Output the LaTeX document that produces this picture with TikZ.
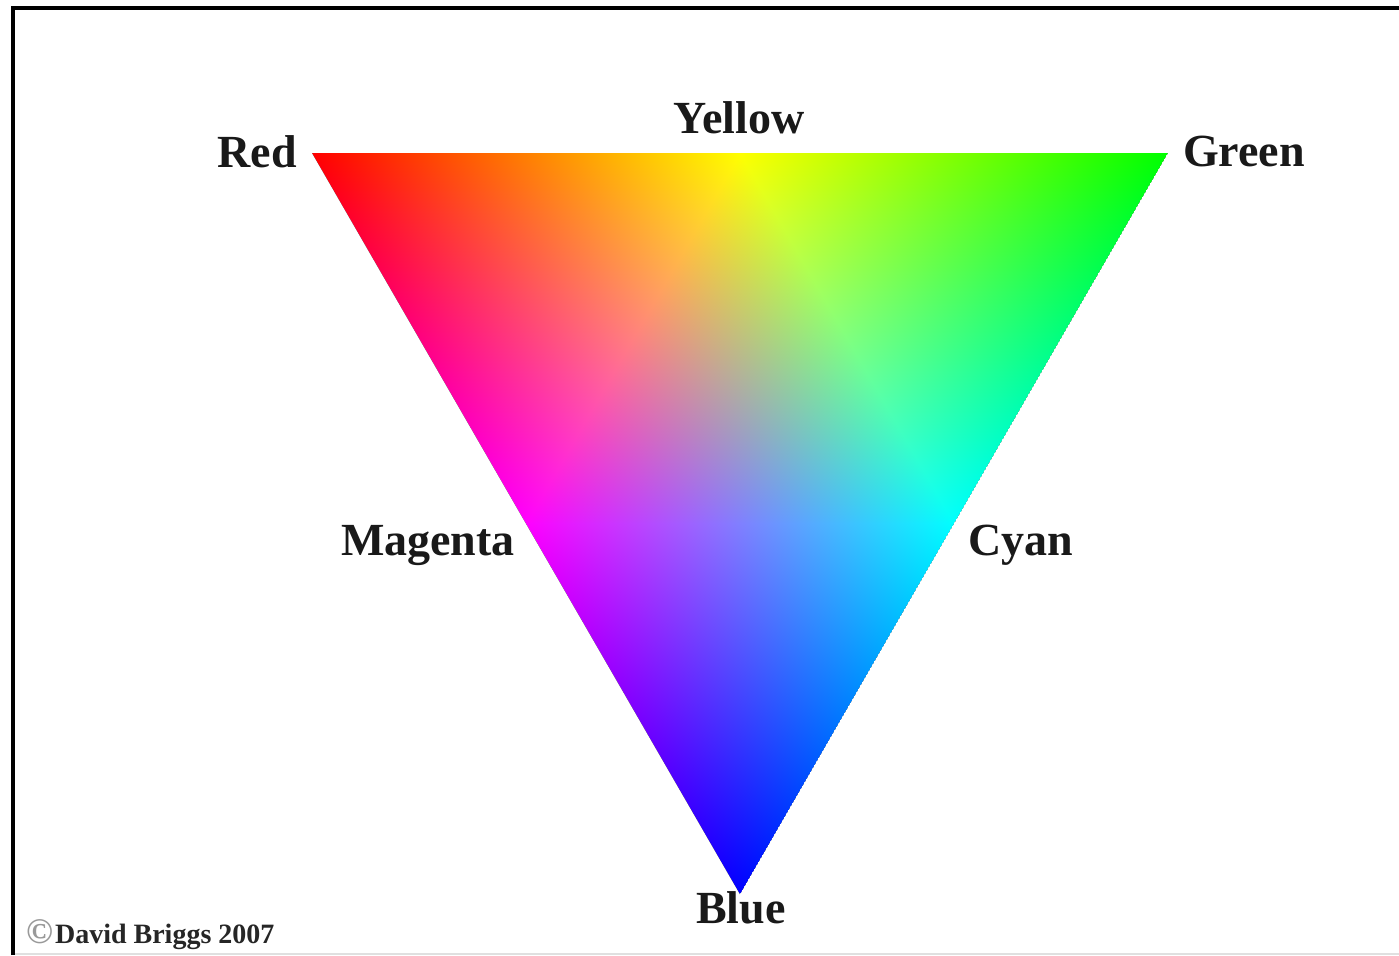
\documentclass[tikz,border=0pt]{standalone}
\usepackage{fontspec}
\setmainfont{Liberation Serif}
\pgfdeclarehorizontalshading{redlayer}{1000pt}{color(0pt)=(black); color(800pt)=(black); color(1170.65pt)=(red); color(1600pt)=(red)}
\pgfdeclarehorizontalshading{greenlayer}{1000pt}{color(0pt)=(black); color(800pt)=(black); color(1170.65pt)=(green); color(1600pt)=(green)}
\pgfdeclarehorizontalshading{bluelayer}{1000pt}{color(0pt)=(black); color(800pt)=(black); color(1170.65pt)=(blue); color(1600pt)=(blue)}
\begin{document}
\begin{tikzpicture}[x=1pt,y=-1pt,
  lbl/.style={font=\bfseries\fontsize{46}{50}\selectfont, inner sep=0pt, anchor=base, text=black!90},
  credit/.style={font=\bfseries\fontsize{28}{30}\selectfont, inner sep=0pt, anchor=base west, text=black!85},
  frameline/.style={line width=3.5pt, black}]
\useasboundingbox (0,0) rectangle (1399,955);
\fill[white] (0,0) rectangle (1399,955);
% vertices and edge midpoints
\coordinate (R) at (312,153);
\coordinate (G) at (1168,153);
\coordinate (B) at (740,894.3);
\coordinate (Y) at (740,153);
\coordinate (C) at (954,523.65);
\coordinate (M) at (526,523.65);
% colour triangle
\begin{scope}
  \clip (R) -- (G) -- (B) -- cycle;
  \fill[black] (R) -- (G) -- (B) -- cycle;
  \begin{scope}[blend mode=screen]
    \begin{scope}[shift={(C)},rotate=150]
      \pgflowlevelsynccm\pgfuseshading{redlayer}
    \end{scope}
    \begin{scope}[shift={(M)},rotate=30]
      \pgflowlevelsynccm\pgfuseshading{greenlayer}
    \end{scope}
    \begin{scope}[shift={(Y)},rotate=-90]
      \pgflowlevelsynccm\pgfuseshading{bluelayer}
    \end{scope}
  \end{scope}
\end{scope}
% frame
\draw[frameline] (13,955) -- (13,8) -- (1399,8);
\draw[black!12, line width=1.5pt] (15,954) -- (1399,954);
% labels
\node[lbl] (red) at (257,167) {Red};
\node[lbl] (yellow) at (739,134) {Yellow};
\node[lbl] (green) at (1244,166) {Green};
\node[lbl] (magenta) at (428,555) {Magenta};
\node[lbl] (cyan) at (1021,555) {Cyan};
\node[lbl] (blue) at (741,923) {Blue};
\node[credit] (credit) at (26,943) {{\color{black!40}\fontsize{36}{36}\selectfont\char"A9}\kern2pt David Briggs 2007};
\end{tikzpicture}
\end{document}
